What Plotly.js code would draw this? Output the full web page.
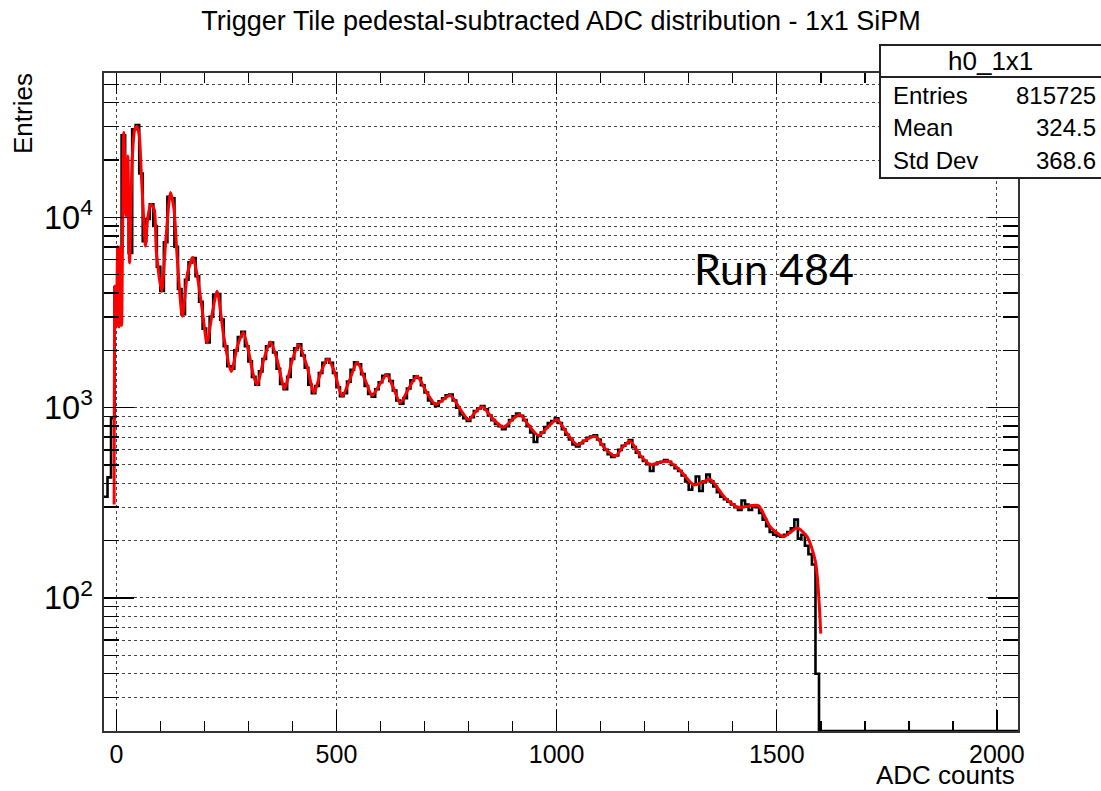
<!DOCTYPE html>
<html>
<head>
<meta charset="utf-8">
<script src="https://cdn.plot.ly/plotly-3.0.1.min.js"></script>
<style>html,body{margin:0;padding:0;background:#fff;}#chart{width:1101px;height:791px;}</style>
</head>
<body>
<div id="chart"></div>
<script>
// ---------- data ----------
// histogram h0_1x1 : bins of 8 ADC counts starting at -28
const binLow = -28;
const binWidth = 8;
const histCounts = [
  340, 430, 880, 4300, 5200, 27000, 11000, 6500, 29000, 30500,
  17000, 7500, 9800, 11700, 9000, 5500, 4100, 7400, 12800, 12600,
  7000, 4200, 3100, 4700, 5800, 6100, 4900, 3600, 2600, 2200,
  3000, 3900, 3950, 2900, 2100, 1650, 1600, 2000, 2350, 2500,
  2100, 1750, 1450, 1320, 1550, 1800, 2100, 2200, 1950, 1600,
  1330, 1250, 1450, 1800, 2050, 2150, 1880, 1620, 1320, 1190,
  1300, 1520, 1720, 1800, 1720, 1520, 1280, 1150, 1190, 1370,
  1580, 1730, 1690, 1500, 1300, 1180, 1140, 1250, 1360, 1470,
  1490, 1380, 1230, 1090, 1050, 1120, 1260, 1390, 1460, 1430,
  1310, 1200, 1090, 1050, 1020, 1080, 1120, 1160, 1170, 1090,
  1000, 920, 880, 850, 890, 960, 990, 1020, 980, 910,
  860, 820, 800, 770, 800, 860, 900, 930, 905, 860,
  800, 740, 660, 710, 740, 790, 830, 850, 880, 830,
  770, 720, 680, 640, 625, 650, 670, 695, 705, 715,
  680, 640, 600, 570, 550, 560, 600, 630, 650, 675,
  620, 580, 550, 525, 505, 465, 505, 515, 520, 530,
  520, 500, 480, 465, 440, 410, 370, 395, 435, 365,
  410, 445, 410, 385, 360, 340, 330, 320, 310, 300,
  290, 325, 310, 290, 305, 300, 280, 258, 238, 222,
  215, 212, 210, 215, 222, 232, 258, 205, 215, 188,
  170, 150, 40,
  0,0,0,0,0,0,0,0,0,0, 0,0,0,0,0,0,0,0,0,0,
  0,0,0,0,0,0,0,0,0,0, 0,0,0,0,0,0,0,0,0,0,
  0,0,0,0,0,0,0,0,0,0, 0,0,0,0,0,0,0
];

const fitADC = [
  -5, -3, 0, 3, 6, 9, 12, 14, 17, 22, 26, 30, 36, 42, 47, 52, 57, 63, 66, 71,
  78, 86, 91, 103, 112, 123, 131, 138, 150, 162, 174, 184, 196, 206, 218, 229, 244, 261, 275, 288,
  301, 312, 320, 335, 350, 365, 382, 400, 414, 433, 449, 464, 480, 494, 513, 530, 547, 564, 581, 598,
  614, 630, 645, 664, 683, 705, 725, 742, 759, 780, 800, 816, 831, 856, 880, 898, 916, 938, 959, 980,
  1001, 1024, 1047, 1068, 1088, 1110, 1133, 1150, 1167, 1190, 1213, 1234, 1254, 1280, 1311, 1330, 1349, 1383, 1413, 1440,
  1459, 1485, 1516, 1546, 1569, 1588, 1600
];
const fitValues = [
  310, 4350, 2650, 7000, 2650, 7000, 2700, 7000, 27900, 10200, 21000, 5760, 20000, 29000, 30000, 27000, 16500, 9000, 7060, 9750,
  11700, 11000, 6550, 4090, 7380, 13500, 11000, 6250, 3020, 5120, 6140, 4910, 3150, 2190, 3150, 4090, 2370, 1550, 2100, 2490,
  1940, 1460, 1320, 1790, 2210, 1790, 1260, 1790, 2140, 1650, 1200, 1520, 1800, 1580, 1150, 1400, 1730, 1420, 1160, 1320,
  1490, 1260, 1060, 1260, 1460, 1200, 1040, 1100, 1160, 990, 865, 950, 1010, 870, 788, 860, 919, 800, 713, 790,
  865, 730, 638, 680, 707, 610, 555, 620, 665, 560, 501, 515, 522, 470, 393, 405, 420, 335, 299, 305,
  305, 237, 210, 233, 210, 155, 65
];

// axis / text content
const xTickVals = [0, 500, 1000, 1500, 2000];
const xRange = [-28, 2048];
const yMin = 20, yMax = 57300;
const statsRows = [["Entries", "815725"], ["Mean", "324.5"], ["Std Dev", "368.6"]];

// ---------- build ----------
const yLogMin = Math.log10(yMin);
const histX = [], histY = [];
histCounts.forEach((c, i) => {
  histX.push(binLow + i * binWidth);
  histY.push(c > 0 ? c : yMin);   // empty bins drawn on the frame bottom (like ROOT)
});
histX.push(binLow + histCounts.length * binWidth);
histY.push(histCounts[histCounts.length - 1] > 0 ? histCounts[histCounts.length - 1] : yMin);

const FONT = 'Liberation Sans, Arial, Helvetica, sans-serif';

// plot area in pixels
const L = 104, R = 1018, T = 73, B = 731, W = 1101, H = 791;
const px = x => (x - L) / (R - L);
const py = y => (B - y) / (B - T);

const traces = [
  {
    x: histX, y: histY, type: 'scatter', mode: 'lines',
    line: {shape: 'hv', color: '#000', width: 2.6},
    hoverinfo: 'skip'
  },
  {
    x: fitADC, y: fitValues, type: 'scatter', mode: 'lines',
    line: {shape: 'spline', smoothing: 0.7, color: '#ff0000', width: 3},
    hoverinfo: 'skip'
  }
];

const annotations = [
  {text: 'ADC counts', xref: 'paper', yref: 'paper', x: px(1017), y: py(775),
   xanchor: 'right', yanchor: 'middle', showarrow: false, font: {family: FONT, size: 26, color: '#000'}},
  {text: 'Entries', xref: 'paper', yref: 'paper', x: px(23), y: py(114), textangle: -90,
   xanchor: 'center', yanchor: 'middle', showarrow: false, font: {family: FONT, size: 26, color: '#000'}},
  {text: 'Run 484', xref: 'paper', yref: 'paper', x: px(692), y: py(268),
   xanchor: 'left', yanchor: 'middle', showarrow: false, font: {family: 'Lato, Carlito, sans-serif', size: 43, color: '#000'}},
  {text: 'h0_1x1', xref: 'paper', yref: 'paper', x: px(990), y: py(61),
   xanchor: 'center', yanchor: 'middle', showarrow: false, font: {family: FONT, size: 26, color: '#000'}}
];
const rowY = [96, 128, 160];
statsRows.forEach((r, i) => {
  annotations.push({text: r[0], xref: 'paper', yref: 'paper', x: px(891), y: py(rowY[i]),
    xanchor: 'left', yanchor: 'middle', showarrow: false, font: {family: FONT, size: 24, color: '#000'}});
  annotations.push({text: r[1], xref: 'paper', yref: 'paper', x: px(1098), y: py(rowY[i]),
    xanchor: 'right', yanchor: 'middle', showarrow: false, font: {family: FONT, size: 24, color: '#000'}});
});

const shapes = [
  {type: 'rect', xref: 'paper', yref: 'paper', x0: px(880), x1: px(1110), y0: py(178), y1: py(45),
   fillcolor: '#fff', line: {color: '#222', width: 2}, layer: 'above'},
  {type: 'line', xref: 'paper', yref: 'paper', x0: px(880), x1: px(1110), y0: py(77), y1: py(77),
   line: {color: '#222', width: 2}, layer: 'above'}
];

const gridCol = '#444';
const layout = {
  width: W, height: H,
  margin: {l: L, r: W - R, t: T, b: H - B, pad: 0},
  paper_bgcolor: '#fff', plot_bgcolor: '#fff',
  showlegend: false,
  title: {text: 'Trigger Tile pedestal-subtracted ADC distribution - 1x1 SiPM',
          font: {family: FONT, size: 27, color: '#000'},
          x: 0.5, xref: 'paper', xanchor: 'center', y: 1 - 21 / H, yref: 'container', yanchor: 'middle'},
  xaxis: {
    range: xRange, tickmode: 'array', tickvals: xTickVals,
    ticks: 'inside', ticklen: 21, tickwidth: 1.5, tickcolor: '#000',
    showline: true, linecolor: '#333', linewidth: 2, mirror: 'ticks',
    showgrid: true, gridcolor: gridCol, griddash: 'dot', gridwidth: 1,
    zeroline: false,
    tickfont: {family: FONT, size: 25, color: '#000'},
    ticklabelstandoff: 0,
    minor: {dtick: 100, tick0: 0, ticks: 'inside', ticklen: 10, tickwidth: 1.5, tickcolor: '#000', showgrid: false}
  },
  yaxis: {
    type: 'log', range: [yLogMin, Math.log10(yMax)],
    tickmode: 'linear', tick0: 0, dtick: 1, exponentformat: 'power',
    ticks: 'inside', ticklen: 30, tickwidth: 1.5, tickcolor: '#000',
    showline: true, linecolor: '#333', linewidth: 2, mirror: 'ticks',
    showgrid: true, gridcolor: gridCol, griddash: 'dot', gridwidth: 1,
    zeroline: false,
    tickfont: {family: FONT, size: 26, color: '#000'},
    ticklabelstandoff: 4,
    minor: {dtick: 'D1', ticks: 'inside', ticklen: 15, tickwidth: 1.5, tickcolor: '#000',
            showgrid: true, gridcolor: gridCol, griddash: 'dot', gridwidth: 1}
  },
  annotations: annotations,
  shapes: shapes
};

Plotly.newPlot('chart', traces, layout, {displayModeBar: false, staticPlot: true});
</script>
</body>
</html>
